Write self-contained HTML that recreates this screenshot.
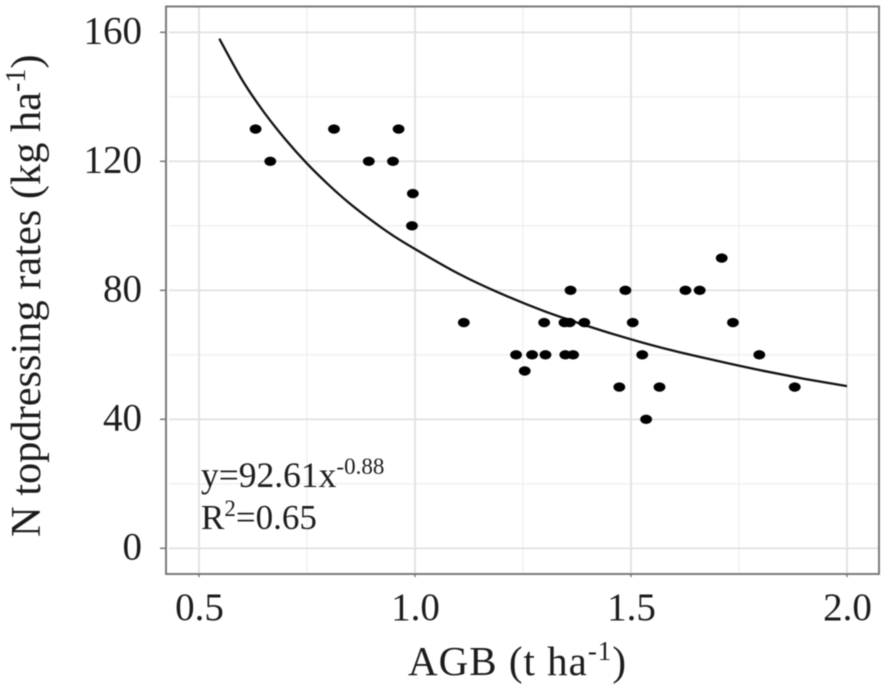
<!DOCTYPE html>
<html lang="en">
<head>
<meta charset="utf-8">
<title>N topdressing rates vs AGB</title>
<style>
html,body{margin:0;padding:0;background:#fff;width:886px;height:689px;overflow:hidden}
svg{display:block}
text{font-family:"Liberation Serif",serif;fill:#1c1c1c}
.blur{filter:blur(0.45px)}
</style>
</head>
<body>
<svg id="chart" width="886" height="689" viewBox="0 0 886 689" xmlns="http://www.w3.org/2000/svg">
  <g id="grid" class="blur"></g>
  <rect x="166" y="6.5" width="713" height="567.5" fill="none" stroke="#7a7a7a" stroke-width="2" class="blur"/>
  <g id="ticks" class="blur"></g>
  <g id="labels" class="blur"></g>
  <path id="curve" fill="none" stroke="#111" stroke-width="2.3" class="blur"/>
  <g id="points" class="blur"></g>
  <g class="blur">
    <text x="408" y="675" font-size="41" letter-spacing="1">AGB (t ha<tspan font-size="27" dy="-15">-1</tspan><tspan dy="15">)</tspan></text>
    <text transform="translate(40,537) rotate(-90)" font-size="42.4">N topdressing rates (kg ha<tspan font-size="28" dy="-15">-1</tspan><tspan dy="15">)</tspan></text>
  </g>
  <g class="blur">
    <text x="201" y="487" font-size="35.5">y=92.61x<tspan font-size="23" dy="-13">-0.88</tspan></text>
    <text x="201" y="529" font-size="35">R<tspan font-size="23" dy="-13">2</tspan><tspan dy="13">=0.65</tspan></text>
  </g>
</svg>
<script>
const xTickValues = [0.5, 1.0, 1.5, 2.0];
const xTickLabels = ["0.5", "1.0", "1.5", "2.0"];
const xMinorValues = [0.75, 1.25, 1.75];
const yTickValues = [0, 40, 80, 120, 160];
const yTickLabels = ["0", "40", "80", "120", "160"];
const yMinorValues = [20, 60, 100, 140];
const agbValues = [0.631, 0.665, 0.8125, 0.893, 0.949, 0.962, 0.995, 0.993, 1.113, 1.234, 1.254, 1.271, 1.299, 1.302, 1.346, 1.358, 1.348, 1.366, 1.360, 1.392, 1.473, 1.487, 1.504, 1.526, 1.535, 1.566, 1.626, 1.659, 1.710, 1.736, 1.797, 1.879];
const rateValues = [130, 120, 130, 120, 120, 130, 110, 100, 70, 60, 55, 60, 70, 60, 70, 70, 60, 60, 80, 70, 50, 80, 70, 60, 40, 50, 80, 80, 90, 70, 60, 50];
const curveX = [0.547, 0.6, 0.65, 0.7, 0.75, 0.8, 0.85, 0.9, 0.95, 1.0, 1.1, 1.2, 1.3, 1.4, 1.5, 1.6, 1.7, 1.8, 1.9, 2.0];
const curveY = [158, 145.2, 135.3, 126.8, 119.3, 112.7, 106.8, 101.6, 96.9, 92.8, 85.2, 78.9, 73.5, 68.9, 64.8, 61.2, 58.1, 55.2, 52.6, 50.3];

const NS = "http://www.w3.org/2000/svg";
function xScale(v) { return 199 + (v - 0.5) * 432; }
function yScale(v) { return 548.3 - v * 3.225; }
function make(tag, attrs, parent) {
  const el = document.createElementNS(NS, tag);
  for (const k in attrs) el.setAttribute(k, attrs[k]);
  parent.appendChild(el);
  return el;
}
const grid = document.getElementById("grid");
const ticks = document.getElementById("ticks");
const labels = document.getElementById("labels");
const points = document.getElementById("points");

xMinorValues.forEach(function (v) {
  const l = make("line", {x1: xScale(v), x2: xScale(v), y1: 7, y2: 573, stroke: "#efefef", "stroke-width": 1.4}, grid);
  
  
});
yMinorValues.forEach(function (v) {
  const l = make("line", {x1: 169, x2: 878, y1: yScale(v), y2: yScale(v), stroke: "#efefef", "stroke-width": 1.4}, grid);
  
  
});
xTickValues.forEach(function (v, i) {
  const px = xScale(v);
  const g = make("line", {x1: px, x2: px, y1: 7, y2: 573, stroke: "#dfdfdf", "stroke-width": 1.7}, grid);
  
  
  const t = make("line", {x1: px, x2: px, y1: 574, y2: 577, stroke: "#777", "stroke-width": 1.5}, ticks);
  
  
  const s = make("text", {x: px + 0.5, y: 620, "font-size": 39, "text-anchor": "middle"}, labels);
  
  
  s.textContent = xTickLabels[i];
});
yTickValues.forEach(function (v, i) {
  const py = yScale(v);
  const g = make("line", {x1: 169, x2: 878, y1: py, y2: py, stroke: "#dfdfdf", "stroke-width": 1.7}, grid);
  
  
  const t = make("line", {x1: 160, x2: 166, y1: py, y2: py, stroke: "#777", "stroke-width": 1.5}, ticks);
  
  
  const s = make("text", {x: 142, y: py + 11, "font-size": 39, "text-anchor": "end"}, labels);
  
  
  s.textContent = yTickLabels[i];
});

/* Smooth the read curve samples with a Catmull-Rom spline through the scaled points */
const curvePts = curveX.map(function (v, i) { return [xScale(v), yScale(curveY[i])]; });
let d = "M" + curvePts[0][0].toFixed(1) + " " + curvePts[0][1].toFixed(1);
for (let i = 0; i < curvePts.length - 1; i++) {
  const p0 = curvePts[Math.max(i - 1, 0)];
  const p1 = curvePts[i];
  const p2 = curvePts[i + 1];
  const p3 = curvePts[Math.min(i + 2, curvePts.length - 1)];
  const c1x = p1[0] + (p2[0] - p0[0]) / 6;
  const c1y = p1[1] + (p2[1] - p0[1]) / 6;
  const c2x = p2[0] - (p3[0] - p1[0]) / 6;
  const c2y = p2[1] - (p3[1] - p1[1]) / 6;
  d += "C" + c1x.toFixed(1) + " " + c1y.toFixed(1) + " " + c2x.toFixed(1) + " " + c2y.toFixed(1) + " " + p2[0].toFixed(1) + " " + p2[1].toFixed(1);
}
document.getElementById("curve").setAttribute("d", d);

agbValues.forEach(function (v, i) {
  const e = make("ellipse", {cx: xScale(v), cy: yScale(rateValues[i]), rx: 5.9, ry: 4.7, fill: "#000"}, points);
  
  
});
</script>
</body>
</html>
